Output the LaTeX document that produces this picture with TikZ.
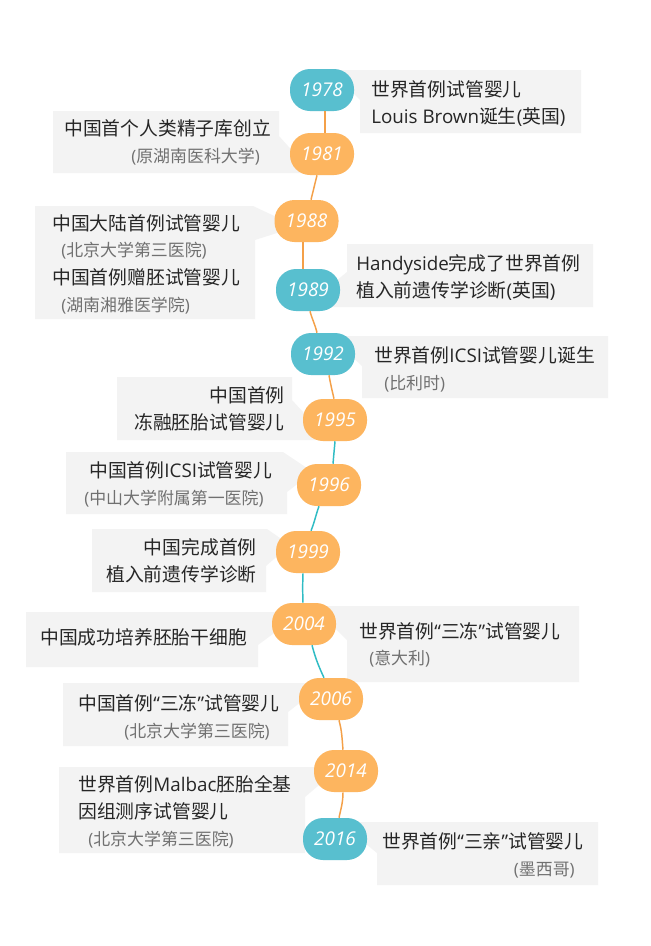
\documentclass[tikz,border=0pt]{standalone}
\usepackage{fontspec}
\setmainfont{Noto Sans CJK SC}
\newfontfamily\lat{Open Sans}
\newcommand{\ltn}[1]{{\lat #1}}
\definecolor{boxgray}{HTML}{F3F3F3}
\definecolor{yrorange}{HTML}{FDB55F}
\definecolor{yrteal}{HTML}{58BFCF}
\definecolor{lnorange}{HTML}{F4A048}
\definecolor{lnteal}{HTML}{2FBCC4}
\definecolor{maintxt}{HTML}{262626}
\definecolor{subtxt}{HTML}{707070}
\tikzset{
  x=0.75pt,y=-0.75pt,
  yearbase/.style={rectangle,rounded corners=15pt,minimum width=48pt,minimum height=31.5pt,inner sep=0pt,text=white,text height=10.6pt,text depth=0.2pt,font={\lat\itshape\fontsize{14.2}{16}\selectfont}},
  yo/.style={yearbase,fill=yrorange},
  yt/.style={yearbase,fill=yrteal},
  mn/.style={inner sep=0pt,text=maintxt,font=\fontsize{14.1}{16}\selectfont,text height=12.3pt,text depth=1.7pt,anchor=west},
  sb/.style={inner sep=0pt,text=subtxt,font=\fontsize{12.7}{15}\selectfont,text height=11pt,text depth=1.2pt,anchor=west},
  callout/.style={fill=boxgray,draw=none},
  lo/.style={draw=lnorange,line width=1.1pt},
  lt/.style={draw=lnteal,line width=1.1pt},
}
\begin{document}
\begin{tikzpicture}
\useasboundingbox[fill=white] (0,0) rectangle (650,946);
% callouts
\fill[callout] (340,70)--(581,70)--(581,133)--(360,133)--(360,100)--(345,85)--cycle;
\fill[callout] (53,111)--(279,111)--(279,136)--(305,165)--(305,173)--(53,173)--cycle;
\fill[callout] (35,206)--(253,206)--(285,221)--(280,232)--(255,240)--(255,319)--(35,319)--cycle;
\fill[callout] (347,244)--(593,244)--(593,307)--(325,307)--(325,290)--(347,272)--cycle;
\fill[callout] (340,336)--(608,336)--(608,398)--(362,398)--(362,366)--(345,350)--cycle;
\fill[callout] (117,377)--(292,377)--(292,400)--(315,425)--(315,440)--(117,440)--cycle;
\fill[callout] (66,452)--(283,452)--(310,470)--(300,482)--(287,492)--(287,514)--(66,514)--cycle;
\fill[callout] (92,529)--(267,529)--(290,545)--(266,566)--(266,592)--(92,592)--cycle;
\fill[callout] (26,612)--(285,612)--(285,625)--(258,645)--(258,667)--(26,667)--cycle;
\fill[callout] (325,606)--(579,606)--(579,682)--(347,682)--(347,640)--(325,618)--cycle;
\fill[callout] (63,683)--(310,683)--(310,695)--(288,712)--(288,746)--(63,746)--cycle;
\fill[callout] (59,767)--(325,767)--(325,780)--(305,797)--(305,853)--(59,853)--cycle;
\fill[callout] (355,822)--(598,822)--(598,885)--(377,885)--(377,853)--(355,835)--cycle;
% year nodes
\node[yt] (y78) at (322,90) {1978};
\node[yo] (y81) at (322,154) {1981};
\node[yo] (y88) at (306.5,221) {1988};
\node[yt] (y89) at (308,290) {1989};
\node[yt] (y92) at (323,354) {1992};
\node[yo] (y95) at (335,420) {1995};
\node[yo] (y96) at (329,485) {1996};
\node[yo] (y99) at (308,552) {1999};
\node[yo] (y04) at (304,624) {2004};
\node[yo] (y06) at (331,699) {2006};
\node[yo] (y14) at (346,771) {2014};
\node[yt] (y16) at (335,839) {2016};
% connectors
\draw[lo] ([shift={(3,0)}]y78.south) -- ([shift={(3,0)}]y81.north);
\draw[lo] ([shift={(-5,0)}]y81.south) -- ([shift={(4.5,0)}]y88.north);
\draw[lo] ([shift={(-3.5,0)}]y88.south) -- ([shift={(-5,0)}]y89.north);
\draw[lo] ([shift={(2,0)}]y89.south) to[out=-75,in=103] ([shift={(-6,0)}]y92.north);
\draw[lo] ([shift={(6,0)}]y92.south) to[out=-80,in=103] ([shift={(-1,0)}]y95.north);
\draw[lt] ([shift={(0,0)}]y95.south) to[out=-95,in=85] ([shift={(4,0)}]y96.north);
\draw[lt] ([shift={(-10,0)}]y96.south) to[out=-110,in=68] ([shift={(3,0)}]y99.north);
\draw[lt] ([shift={(-5,0)}]y99.south) to[out=-92,in=92] ([shift={(-1,0)}]y04.north);
\draw[lt] ([shift={(8,0)}]y04.south) to[out=-75,in=115] ([shift={(-7,0)}]y06.north);
\draw[lo] ([shift={(8,0)}]y06.south) to[out=-75,in=95] ([shift={(-3,0)}]y14.north);
\draw[lo] ([shift={(-3,0)}]y14.south) to[out=-90,in=78] ([shift={(4,0)}]y16.north);
% texts
\node[mn] (t01) at (371,89.5) {世界首例试管婴儿};
\node[mn] (t02) at (371,116.5) {\ltn{Louis Brown}诞生\ltn{(}英国\ltn{)}};
\node[mn] (t03) at (64,128.5) {中国首个人类精子库创立};
\node[sb] (t04) at (131,156) {\ltn{(}原湖南医科大学\ltn{)}};
\node[mn] (t05) at (52,223) {中国大陆首例试管婴儿};
\node[sb] (t06) at (61,250) {\ltn{(}北京大学第三医院\ltn{)}};
\node[mn] (t07) at (52,277.5) {中国首例赠胚试管婴儿};
\node[sb] (t08) at (61,305) {\ltn{(}湖南湘雅医学院\ltn{)}};
\node[mn] (t09) at (356,263) {\ltn{Handyside}完成了世界首例};
\node[mn] (t10) at (356,290) {植入前遗传学诊断\ltn{(}英国\ltn{)}};
\node[mn] (t11) at (374,355.5) {世界首例\ltn{ICSI}试管婴儿诞生};
\node[sb] (t12) at (384,383) {\ltn{(}比利时\ltn{)}};
\node[mn,anchor=east] (t13) at (285,395) {中国首例};
\node[mn,anchor=east] (t14) at (285,422) {冻融胚胎试管婴儿};
\node[mn] (t15) at (89,470) {中国首例\ltn{ICSI}试管婴儿};
\node[sb] (t16) at (84,498) {\ltn{(}中山大学附属第一医院\ltn{)}};
\node[mn,anchor=east] (t17) at (257,547) {中国完成首例};
\node[mn,anchor=east] (t18) at (257,574) {植入前遗传学诊断};
\node[mn] (t19) at (40,637) {中国成功培养胚胎干细胞};
\node[mn] (t20) at (359,631) {世界首例\ltn{“}三冻\ltn{”}试管婴儿};
\node[sb] (t21) at (369,658) {\ltn{(}意大利\ltn{)}};
\node[mn] (t22) at (78,703) {中国首例\ltn{“}三冻\ltn{”}试管婴儿};
\node[sb] (t23) at (124,731) {\ltn{(}北京大学第三医院\ltn{)}};
\node[mn] (t24) at (78,784) {世界首例\ltn{Malbac}胚胎全基};
\node[mn] (t25) at (78,811) {因组测序试管婴儿};
\node[sb] (t26) at (88,839) {\ltn{(}北京大学第三医院\ltn{)}};
\node[mn] (t27) at (382,841) {世界首例\ltn{“}三亲\ltn{”}试管婴儿};
\node[sb,anchor=east] (t28) at (575,869) {\ltn{(}墨西哥\ltn{)}};
\end{tikzpicture}
\end{document}
